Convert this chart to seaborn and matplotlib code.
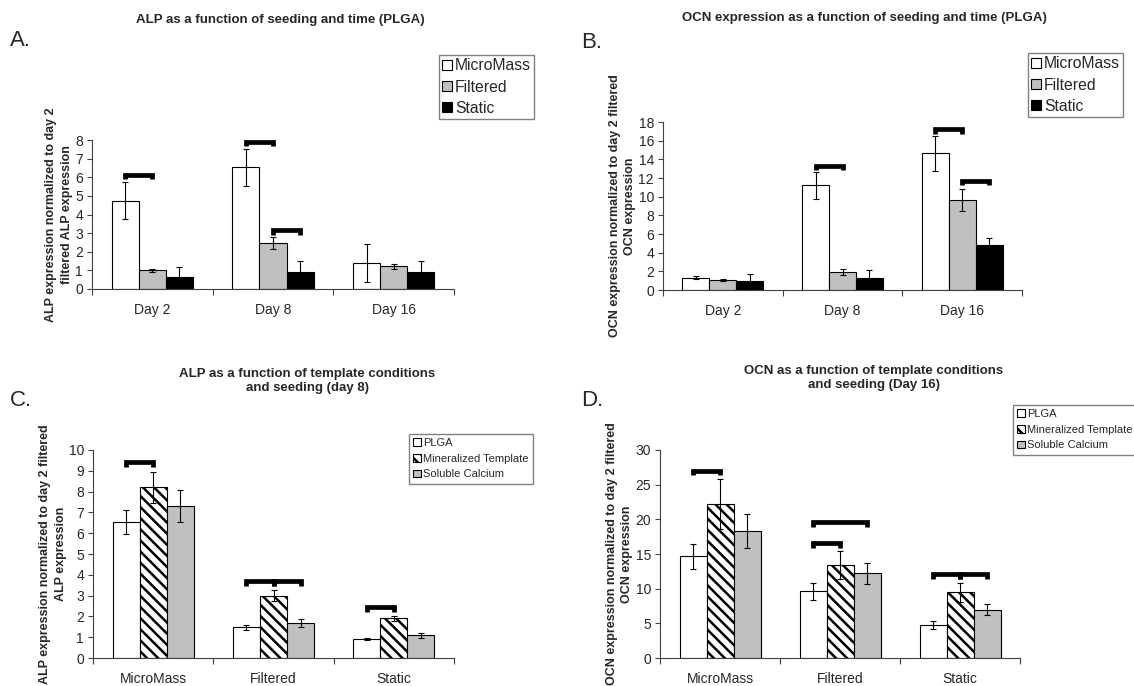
import numpy as np
import pandas as pd
import matplotlib
matplotlib.use('Agg')
import matplotlib.pyplot as plt
import seaborn as sns

sns.set_style('white')
plt.rcParams['font.family'] = ['Liberation Sans', 'DejaVu Sans']
plt.rcParams['hatch.linewidth'] = 1.8
plt.rcParams['hatch.color'] = 'black'

days = ['Day 2', 'Day 8', 'Day 16']
seeding = ['MicroMass', 'Filtered', 'Static']
templates = ['PLGA', 'Mineralized Template', 'Soluble Calcium']

# A. ALP vs seeding and time (PLGA) - one list per seeding method, over days
alp_time = {
    'MicroMass': [4.75, 6.53, 1.40],
    'Filtered': [1.00, 2.48, 1.22],
    'Static': [0.65, 0.90, 0.90],
}
alp_time_err = {
    'MicroMass': [1.00, 1.00, 1.02],
    'Filtered': [0.10, 0.32, 0.14],
    'Static': [0.55, 0.60, 0.60],
}
# significance brackets: (category, series i, series j, height)
alp_time_sig = [(0, 0, 1, 6.13), (1, 0, 1, 7.9), (1, 1, 2, 3.15)]

# B. OCN vs seeding and time (PLGA)
ocn_time = {
    'MicroMass': [1.32, 11.2, 14.65],
    'Filtered': [1.07, 1.96, 9.66],
    'Static': [0.96, 1.30, 4.78],
}
ocn_time_err = {
    'MicroMass': [0.15, 1.45, 1.90],
    'Filtered': [0.12, 0.30, 1.20],
    'Static': [0.75, 0.80, 0.80],
}
ocn_time_sig = [(1, 0, 1, 13.3), (2, 0, 1, 17.2), (2, 1, 2, 11.7)]

# C. ALP vs template conditions and seeding (day 8) - one list per template, over seeding
alp_tmpl = {
    'PLGA': [6.53, 1.49, 0.91],
    'Mineralized Template': [8.21, 3.00, 1.90],
    'Soluble Calcium': [7.31, 1.68, 1.09],
}
alp_tmpl_err = {
    'PLGA': [0.57, 0.12, 0.06],
    'Mineralized Template': [0.75, 0.27, 0.13],
    'Soluble Calcium': [0.75, 0.18, 0.11],
}
alp_tmpl_sig = [(0, 0, 1, 9.4), (1, 0, 1, 3.7), (1, 1, 2, 3.7), (2, 0, 1, 2.45)]

# D. OCN vs template conditions and seeding (day 16)
ocn_tmpl = {
    'PLGA': [14.64, 9.60, 4.75],
    'Mineralized Template': [22.18, 13.44, 9.46],
    'Soluble Calcium': [18.34, 12.19, 6.96],
}
ocn_tmpl_err = {
    'PLGA': [1.80, 1.20, 0.58],
    'Mineralized Template': [3.60, 2.00, 1.40],
    'Soluble Calcium': [2.50, 1.55, 0.82],
}
ocn_tmpl_sig = [(0, 0, 1, 27.0), (1, 0, 2, 19.6), (1, 0, 1, 16.56),
                (2, 0, 1, 12.05), (2, 1, 2, 12.05)]

W, H = 1134, 686
fig = plt.figure(figsize=(W / 100, H / 100), dpi=100)


def axes_px(l, r, t, b):
    return fig.add_axes([l / W, 1 - b / H, (r - l) / W, (b - t) / H])


def panel(ax, cats, vals, errs, colors, hatches, ymax, ystep, sig, ylabel):
    series = list(vals.keys())
    df = pd.DataFrame({
        'cat': cats * len(series),
        'series': np.repeat(series, len(cats)),
        'val': np.concatenate([vals[s] for s in series]),
    })
    sns.barplot(data=df, x='cat', y='val', hue='series', order=cats,
                hue_order=series, palette=colors, saturation=1,
                edgecolor='black', linewidth=0.8, errorbar=None,
                width=0.675, gap=0, legend=False, ax=ax)
    bars = list(ax.containers)
    centers = []
    for k, cont in enumerate(bars):
        xs = [p.get_x() + p.get_width() / 2 for p in cont.patches]
        hs = [p.get_height() for p in cont.patches]
        for p in cont.patches:
            if hatches[k]:
                p.set_hatch(hatches[k])
        centers.append(xs)
        ax.errorbar(xs, hs, yerr=errs[series[k]], fmt='none', ecolor='black',
                    elinewidth=0.8, capsize=2, capthick=0.8, zorder=5)
    # bracket end drop of ~4.5 px, converted to data units
    d = 4.5 * ymax / (ax.get_position().height * H)
    for c, i, j, y in sig:
        x1, x2 = centers[i][c], centers[j][c]
        ax.plot([x1, x1, x2, x2], [y - d, y, y, y - d], color='black', lw=3.4,
                solid_capstyle='butt', solid_joinstyle='miter', zorder=6)
    ax.set_xlim(-0.5, len(cats) - 0.5)
    ax.set_ylim(0, ymax)
    ax.set_yticks(np.arange(0, ymax + 0.01, ystep))
    ax.set_xticks(range(len(cats)))
    ax.set_xticklabels(cats)
    ax.set_xticks(np.arange(-0.5, len(cats)), minor=True)
    ax.tick_params(axis='x', which='major', length=0, pad=10, labelsize=10)
    ax.tick_params(axis='x', which='minor', length=4, direction='out',
                   width=0.8, color='#404040', bottom=True)
    ax.tick_params(axis='y', length=3.5, direction='out', width=0.8,
                   color='#404040', pad=3, labelsize=10, left=True)
    ax.set_xlabel('')
    ax.set_ylabel(ylabel, fontsize=9, fontweight='bold', labelpad=1.5,
                  linespacing=1.4)
    for s in ['top', 'right']:
        ax.spines[s].set_visible(False)
    for s in ['left', 'bottom']:
        ax.spines[s].set_color('#404040')
        ax.spines[s].set_linewidth(0.8)
    return series, bars


def legend_px(bars, series, x, y, fs, ls, bp, hl):
    fig.legend(handles=bars, labels=series, loc='upper left',
               bbox_to_anchor=(x / W, 1 - y / H), frameon=True, fancybox=False,
               edgecolor='#808080', fontsize=fs, handlelength=hl,
               handleheight=hl, handletextpad=0.2, borderpad=bp,
               labelspacing=ls, borderaxespad=0, framealpha=1)


seed_colors = {'MicroMass': 'white', 'Filtered': '#c0c0c0', 'Static': 'black'}
tmpl_colors = {'PLGA': 'white', 'Mineralized Template': 'white',
               'Soluble Calcium': '#c0c0c0'}
tmpl_hatches = [None, '\\\\\\', None]

axA = axes_px(92, 454, 140, 289)
sA, bA = panel(axA, days, alp_time, alp_time_err, seed_colors, [None] * 3, 8, 1,
               alp_time_sig, 'ALP expression normalized to day 2\nfiltered ALP expression')
legend_px(bA, sA, 439, 55, 11.3, 0.4, 0.22, 0.6)

axB = axes_px(663, 1022, 122, 290)
sB, bB = panel(axB, days, ocn_time, ocn_time_err, seed_colors, [None] * 3, 18, 2,
               ocn_time_sig, 'OCN expression normalized to day 2 filtered\nOCN expression')
legend_px(bB, sB, 1028, 53, 11.3, 0.4, 0.22, 0.6)

axC = axes_px(93, 454, 450, 658)
sC, bC = panel(axC, seeding, alp_tmpl, alp_tmpl_err, tmpl_colors, tmpl_hatches, 10, 1,
               alp_tmpl_sig, 'ALP expression normalized to day 2 filtered\nALP expression')
legend_px(bC, sC, 409, 434, 8, 0.5, 0.38, 0.7)

axD = axes_px(660, 1020, 450, 658)
sD, bD = panel(axD, seeding, ocn_tmpl, ocn_tmpl_err, tmpl_colors, tmpl_hatches, 30, 5,
               ocn_tmpl_sig, 'OCN expression normalized to day 2 filtered\nOCN expression')
legend_px(bD, sD, 1013, 405, 8, 0.5, 0.38, 0.7)

# titles and panel letters
fig.text(280 / W, 1 - 20 / H, 'ALP as a function of seeding and time (PLGA)',
         ha='center', va='center', fontsize=9.5, fontweight='bold')
fig.text(864 / W, 1 - 18 / H, 'OCN expression as a function of seeding and time (PLGA)',
         ha='center', va='center', fontsize=9.5, fontweight='bold')
fig.text(307 / W, 1 - 381 / H, 'ALP as a function of template conditions\nand seeding (day 8)',
         ha='center', va='center', fontsize=9.5, fontweight='bold', linespacing=1.2)
fig.text(874 / W, 1 - 378 / H, 'OCN as a function of template conditions\nand seeding (Day 16)',
         ha='center', va='center', fontsize=9.5, fontweight='bold', linespacing=1.2)
for letter, x, y in [('A.', 10, 41), ('B.', 581, 42), ('C.', 10, 400), ('D.', 581, 400)]:
    fig.text(x / W, 1 - y / H, letter, ha='left', va='center', fontsize=16)

fig.savefig('out.png', dpi=100)
